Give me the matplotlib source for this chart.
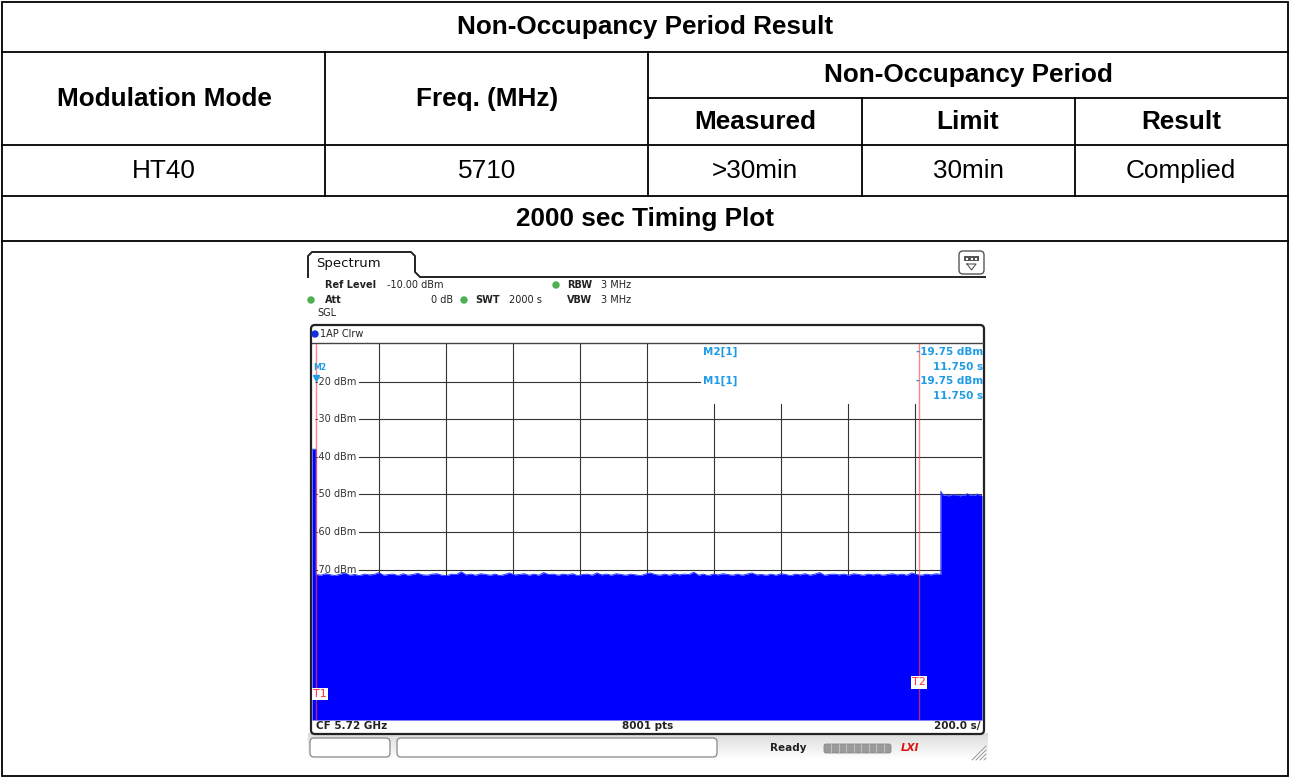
import matplotlib
matplotlib.use('Agg')
import matplotlib.pyplot as plt
from matplotlib.patches import FancyBboxPatch, Rectangle, Circle
import numpy as np

# ---- table content ----
table_title = 'Non-Occupancy Period Result'
col_heads = ['Modulation Mode', 'Freq. (MHz)']
group_head = 'Non-Occupancy Period'
sub_heads = ['Measured', 'Limit', 'Result']
row_values = ['HT40', '5710', '>30min', '30min', 'Complied']
plot_title = '2000 sec Timing Plot'

# ---- analyzer settings / readouts ----
ref_level = '-10.00 dBm'
att = '0 dB'
swt = '2000 s'
rbw = '3 MHz'
vbw = '3 MHz'
cf = 'CF 5.72 GHz'
pts = '8001 pts'
per_div = '200.0 s/'
y_levels = [-20, -30, -40, -50, -60, -70]
x_grid = [200, 400, 600, 800, 1000, 1200, 1400, 1600, 1800]
markers = [('M2[1]', '-19.75 dBm', '11.750 s'), ('M1[1]', '-19.75 dBm', '11.750 s')]
marker_t = 11.75
marker_dbm = -19.75
t1_s = 11.75
t2_s = 1812

# ---- trace ----
sweep_s = 2000
spike_dbm = -38.0
t_burst_start = 1877
floor_dbm = [
    -71.3, -71.5, -71.1, -71.4, -71.6, -71.2, -70.9, -71.5, -71.3, -71.6,
    -71.2, -71.4, -71.3, -70.8, -71.5, -71.3, -71.2, -71.6, -71.1, -71.5,
    -71.3, -71.0, -71.4, -71.5, -71.2, -71.1, -71.5, -71.6, -71.2, -71.3,
    -70.6, -71.4, -71.2, -71.5, -71.1, -71.3, -71.5, -71.2, -71.6, -71.3,
    -70.9, -71.4, -71.3, -71.1, -71.5, -71.2, -71.5, -70.8, -71.3, -71.2,
    -71.5, -71.2, -71.4, -71.1, -71.6, -71.3, -71.2, -71.5, -70.9, -71.4,
    -71.2, -71.5, -71.1, -71.3, -71.5, -71.2, -71.4, -71.6, -71.2, -70.9,
    -71.3, -71.5, -71.2, -71.5, -71.1, -71.4, -71.2, -71.3, -70.7, -71.5,
    -71.2, -71.6, -71.2, -71.4, -71.1, -71.3, -71.5, -71.2, -71.5, -71.2,
    -70.9, -71.4, -71.3, -71.5, -71.2, -71.5, -71.1, -71.3, -71.6, -71.2,
    -71.4, -71.1, -71.5, -71.2, -70.8, -71.5, -71.3, -71.2, -71.4, -71.2,
    -71.5, -71.1, -71.3, -71.5, -71.2, -71.4, -71.2, -71.5, -71.3, -71.1,
    -71.4, -71.2, -71.5, -70.9, -71.3, -71.5, -71.2, -71.4, -71.1, -71.3,
]
burst_dbm = [-49.2, -50.3, -50.1, -50.4, -50.2, -50.0, -50.3, -50.2, -50.4, -50.1,
             -50.2, -49.8, -50.3, -50.1, -50.3, -49.9, -50.2, -50.3]

W, H = 1290, 778
fig = plt.figure(figsize=(12.9, 7.78), dpi=100)
ax = fig.add_axes([0, 0, 1, 1])

tf = dict(family='Liberation Sans', fontsize=18.8, ha='center', va='center', color='black')
blw = 1.3

# table grid
ax.add_patch(Rectangle((2, 2), 1286, 774, fill=False, lw=blw, ec='black'))
for y in [52, 145, 196, 241]:
    ax.plot([2, 1288], [y, y], color='black', lw=blw)
ax.plot([648, 1288], [98, 98], color='black', lw=blw)
for x in [325, 648]:
    ax.plot([x, x], [52, 196], color='black', lw=blw)
for x in [862, 1075]:
    ax.plot([x, x], [98, 196], color='black', lw=blw)

ax.text(645, 27, table_title, weight='bold', **tf)
ax.text(164, 99, col_heads[0], weight='bold', **tf)
ax.text(487, 99, col_heads[1], weight='bold', **tf)
ax.text(968, 75, group_head, weight='bold', **tf)
for cx, s in zip([755, 968, 1181], sub_heads):
    ax.text(cx, 122, s, weight='bold', **tf)
for cx, s in zip([164, 487, 755, 968, 1181], row_values):
    ax.text(cx, 171, s, **tf)
ax.text(645, 219, plot_title, weight='bold', **tf)

# ---- analyzer screen chrome ----
sf = dict(family='DejaVu Sans', fontsize=7, va='center', color='#222222')
ax.plot([308, 308, 312, 411, 415, 415, 420, 985], [277, 256, 252, 252, 256, 272, 277, 277],
        color='#222222', lw=1.4)
ax.text(316, 264, 'Spectrum', fontsize=9.5, family='DejaVu Sans', va='center', color='#111111')
ax.add_patch(FancyBboxPatch((959, 251), 25, 23, boxstyle='round,pad=0,rounding_size=4',
                            fc='white', ec='#555555', lw=1))
ax.add_patch(Rectangle((964, 256), 15, 5, fc='#555555', ec='none'))
for dx in [967, 971.5, 976]:
    ax.add_patch(Rectangle((dx - 1, 257.5), 2, 2, fc='white', ec='none'))
ax.plot([967, 976, 971.5, 967], [264, 264, 270, 264], color='#555555', lw=0.8)

green = '#4caf50'
ax.text(325, 285, 'Ref Level', weight='bold', **sf)
ax.text(387, 285, ref_level, **sf)
ax.add_patch(Circle((556, 285), 3, color=green))
ax.text(567, 285, 'RBW', weight='bold', **sf)
ax.text(601, 285, rbw, **sf)
ax.add_patch(Circle((311, 300), 3, color=green))
ax.text(325, 300, 'Att', weight='bold', **sf)
ax.text(453, 300, att, ha='right', **sf)
ax.add_patch(Circle((464, 300), 3, color=green))
ax.text(475, 300, 'SWT', weight='bold', **sf)
ax.text(509, 300, swt, **sf)
ax.text(567, 300, 'VBW', weight='bold', **sf)
ax.text(601, 300, vbw, **sf)
ax.text(317, 313, 'SGL', **sf)

# grey strip behind the soft keys
grad = np.linspace(0.86, 1.0, 30).reshape(-1, 1)
ax.imshow(grad, extent=[308, 988, 760, 733], cmap='gray', vmin=0, vmax=1, aspect='auto', zorder=0)

ax.add_patch(FancyBboxPatch((311, 325), 673, 409, boxstyle='round,pad=0,rounding_size=4',
                            fc='white', ec='#222222', lw=1.6))
ax.plot([312, 983], [343, 343], color='#444444', lw=1)
ax.add_patch(Circle((315, 334), 3, color='#1030e0'))
ax.text(320, 334, '1AP Clrw', **sf)

sb = dict(family='DejaVu Sans', fontsize=7.5, weight='bold', va='center', color='#222222')
ax.text(316, 726, cf, ha='left', **sb)
ax.text(648, 726, pts, ha='center', **sb)
ax.text(980, 726, per_div, ha='right', **sb)

# bottom status strip
ax.add_patch(FancyBboxPatch((310, 738), 80, 19, boxstyle='round,pad=0,rounding_size=4',
                            fc='white', ec='#888888', lw=0.9))
ax.add_patch(FancyBboxPatch((397, 738), 320, 19, boxstyle='round,pad=0,rounding_size=4',
                            fc='white', ec='#888888', lw=0.9))
ax.text(770, 748, 'Ready', ha='left', **sb)
ax.add_patch(FancyBboxPatch((824, 744), 67, 9, boxstyle='round,pad=0,rounding_size=2',
                            fc='#9a9a9a', ec='#888888', lw=0.6))
for i in range(1, 9):
    xs = 824 + i * 67 / 9
    ax.plot([xs, xs], [744, 753], color='#c8c8c8', lw=0.6)
ax.text(910, 748, 'LXI', fontsize=7.5, weight='bold', style='italic', color='#dd1010',
        ha='center', va='center', family='DejaVu Sans')
for i in range(4):
    ax.plot([972 + 4 * i, 986], [760, 746 + 4 * i], color='#888888', lw=0.6)

ax.set_xlim(0, W)
ax.set_ylim(H, 0)
ax.axis('off')

# ---- trace area ----
sp = fig.add_axes([312 / W, 1 - 720 / H, 670 / W, 376 / H])
sp.set_xlim(0, sweep_s)
sp.set_ylim(-110, -10)
sp.axis('off')

gc = '#333333'
for lv in y_levels:
    x_end = 1158 if lv == -20 else sweep_s
    sp.plot([140, x_end], [lv, lv], color=gc, lw=0.8, zorder=1)
    sp.text(10, lv, f'{lv} dBm', fontsize=7, family='DejaVu Sans', color='#333333',
            va='center', ha='left', zorder=4)
for xg in x_grid:
    top = -10 if xg <= 1000 else -26
    sp.plot([xg, xg], [top, -110], color=gc, lw=0.8, zorder=1)

t_floor = np.linspace(t1_s, t_burst_start, len(floor_dbm))
t_burst = np.linspace(t_burst_start, sweep_s, len(burst_dbm))
t = np.concatenate([[0, t1_s], t_floor, t_burst])
lvl = np.concatenate([[spike_dbm, spike_dbm], floor_dbm, burst_dbm])
sp.fill_between(t, lvl, -110, color='#0000ff', lw=0, zorder=2)
sp.plot(t, lvl, color='#2a3cff', lw=0.7, zorder=2)

red = '#ff4545'
for tx in [t1_s, t2_s]:
    sp.plot([tx, tx], [-10, -110], color=red, lw=1, alpha=0.65, zorder=3)
sp.text(2, -103, 'T1', fontsize=8, color='#ff3030', family='DejaVu Sans', va='center', ha='left',
        zorder=5, bbox=dict(fc='white', ec='none', pad=0.8))
sp.text(t2_s, -100, 'T2', fontsize=8, color='#ff3030', family='DejaVu Sans', va='center',
        ha='center', zorder=5, bbox=dict(fc='white', ec='none', pad=0.8))

blue_m = '#1e9be6'
sp.plot([marker_t], [marker_dbm + 0.8], marker='v', ms=5, color=blue_m, zorder=5)
sp.text(marker_t - 8, -16.2, 'M2', fontsize=5.5, weight='bold', color=blue_m, ha='left',
        va='center', family='DejaVu Sans', zorder=5)

mf = dict(family='DejaVu Sans', fontsize=7.5, weight='bold', color=blue_m, va='center')
for i, (name, val, tm) in enumerate(markers):
    y0 = 352 + 29 * i
    ax.text(703, y0, name, ha='left', **mf)
    ax.text(983, y0, val, ha='right', **mf)
    ax.text(983, y0 + 15, tm, ha='right', **mf)

fig.savefig('out.png', dpi=100)
